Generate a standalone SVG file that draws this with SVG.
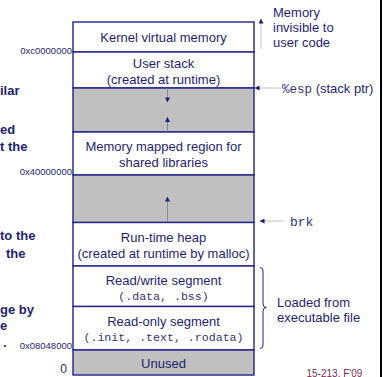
<svg xmlns="http://www.w3.org/2000/svg" width="383" height="377" viewBox="0 0 383 377">
  <defs>
    <marker id="head" viewBox="0 0 6 6" refX="5.5" refY="3" markerWidth="5" markerHeight="5" orient="auto" markerUnits="userSpaceOnUse">
      <path d="M0,0 L6,3 L0,6 Z" fill="#1e1e78"/>
    </marker>
  </defs>
  <style>
    .seg{fill:#ffffff;stroke:#22228a;stroke-width:1.4}
    .gap{fill:#c0c0c0;stroke:#22228a;stroke-width:1.4}
    .t{font-family:"Liberation Sans",Arial,sans-serif;font-size:13px;fill:#1e1e72;text-anchor:middle}
    .m{font-family:"Liberation Mono","Courier New",monospace;font-size:11.6px;fill:#33337a;text-anchor:middle}
    .addr{font-family:"Liberation Sans",Arial,sans-serif;font-size:9.5px;fill:#1e1e72;text-anchor:end}
    .side{font-family:"Liberation Sans",Arial,sans-serif;font-size:13px;fill:#1e1e72}
    .sidem{font-family:"Liberation Mono","Courier New",monospace;font-size:12.5px;fill:#33337a}
    .note{font-family:"Liberation Sans",Arial,sans-serif;font-size:13px;font-weight:bold;fill:#1e1e72}
    .grow{stroke:#8a8a8a;stroke-width:1;fill:none}
    .ptr{stroke:#c4c4c4;stroke-width:1;fill:none}
  </style>

  <!-- partly hidden bullet text at the left edge -->
  <g id="notes">
    <text class="note" x="0" y="94.5">ilar</text>
    <text class="note" x="0" y="133.5">ed</text>
    <text class="note" x="0" y="150.5">t the</text>
    <text class="note" x="0" y="239.5">to the</text>
    <text class="note" x="6" y="257.5">the</text>
    <text class="note" x="0" y="313.5">ge by</text>
    <text class="note" x="0" y="329.5">e</text>
    <text class="note" x="3" y="347">.</text>
  </g>

  <!-- address labels -->
  <g id="addresses">
    <text class="addr" x="72" y="53.5">0xc0000000</text>
    <text class="addr" x="72" y="175">0x40000000</text>
    <text class="addr" x="72" y="349">0x08048000</text>
    <text class="addr" x="67" y="372.5" style="font-size:12px">0</text>
  </g>

  <!-- memory segments, top to bottom -->
  <g id="kernel">
    <rect class="seg" x="73" y="22" width="181" height="30"/>
    <text class="t" x="163.5" y="42">Kernel virtual memory</text>
  </g>
  <g id="user-stack">
    <rect class="seg" x="73" y="52" width="181" height="36"/>
    <text class="t" x="163.5" y="68">User stack</text>
    <text class="t" x="163.5" y="83.5">(created at runtime)</text>
  </g>
  <g id="gap-upper">
    <rect class="gap" x="73" y="88" width="181" height="44"/>
  </g>
  <g id="mmap">
    <rect class="seg" x="73" y="132" width="181" height="43"/>
    <text class="t" x="163.5" y="151">Memory mapped region for</text>
    <text class="t" x="163.5" y="166.5">shared libraries</text>
  </g>
  <g id="gap-lower">
    <rect class="gap" x="73" y="175" width="181" height="47.5"/>
  </g>
  <g id="heap">
    <rect class="seg" x="73" y="222.5" width="181" height="43.5"/>
    <text class="t" x="163.5" y="242">Run-time heap</text>
    <text class="t" x="163.5" y="258">(created at runtime by malloc)</text>
  </g>
  <g id="rw-segment">
    <rect class="seg" x="73" y="266" width="181" height="40.5"/>
    <text class="t" x="163.5" y="285">Read/write segment</text>
    <text class="m" x="163.5" y="300">(.data, .bss)</text>
  </g>
  <g id="ro-segment">
    <rect class="seg" x="73" y="306.5" width="181" height="43.5"/>
    <text class="t" x="163.5" y="325.5">Read-only segment</text>
    <text class="m" x="163.5" y="340.5">(.init, .text, .rodata)</text>
  </g>
  <g id="unused">
    <rect class="gap" x="73" y="350" width="181" height="25"/>
    <text class="t" x="163.5" y="368">Unused</text>
  </g>

  <!-- side annotations -->
  <g id="invisible-label">
    <text class="side" x="273" y="16.5">Memory</text>
    <text class="side" x="273" y="31.5">invisible to</text>
    <text class="side" x="273" y="46.5">user code</text>
  </g>
  <g id="esp-label">
    <text x="282" y="92.5"><tspan class="sidem">%esp</tspan><tspan class="side"> (stack ptr)</tspan></text>
  </g>
  <g id="brk-label">
    <text class="sidem" x="290" y="225.5" style="font-size:13px">brk</text>
  </g>
  <g id="loaded-label">
    <path d="M260,267.5 Q263,267.5 263,271 L263,304 Q263,307.5 266.5,307.5 Q263,307.5 263,311 L263,345 Q263,348.5 260,348.5" fill="none" stroke="#22228a" stroke-width="1"/>
    <text class="side" x="277" y="307">Loaded from</text>
    <text class="side" x="277" y="322">executable file</text>
  </g>

  <!-- connectors -->
  <g id="connectors">
    <line class="grow" x1="167.5" y1="88.5" x2="167.5" y2="102" marker-end="url(#head)"/>
    <line class="grow" x1="167.5" y1="131.5" x2="167.5" y2="117.5" marker-end="url(#head)"/>
    <line class="grow" x1="167.5" y1="222" x2="167.5" y2="197" marker-end="url(#head)"/>
    <line class="ptr" x1="261" y1="49" x2="261" y2="19" marker-end="url(#head)"/>
    <line class="ptr" x1="281" y1="88" x2="255" y2="88" marker-end="url(#head)"/>
    <line class="ptr" x1="284" y1="221" x2="260" y2="221" marker-end="url(#head)"/>
  </g>

  <!-- footer and frame edge -->
  <text x="306.5" y="376.5" style="font-family:'Liberation Sans',Arial,sans-serif;font-size:10px;fill:#7a2a50">15-213, F'09</text>
  <rect x="380" y="0" width="2" height="377" fill="#000000"/>
</svg>
